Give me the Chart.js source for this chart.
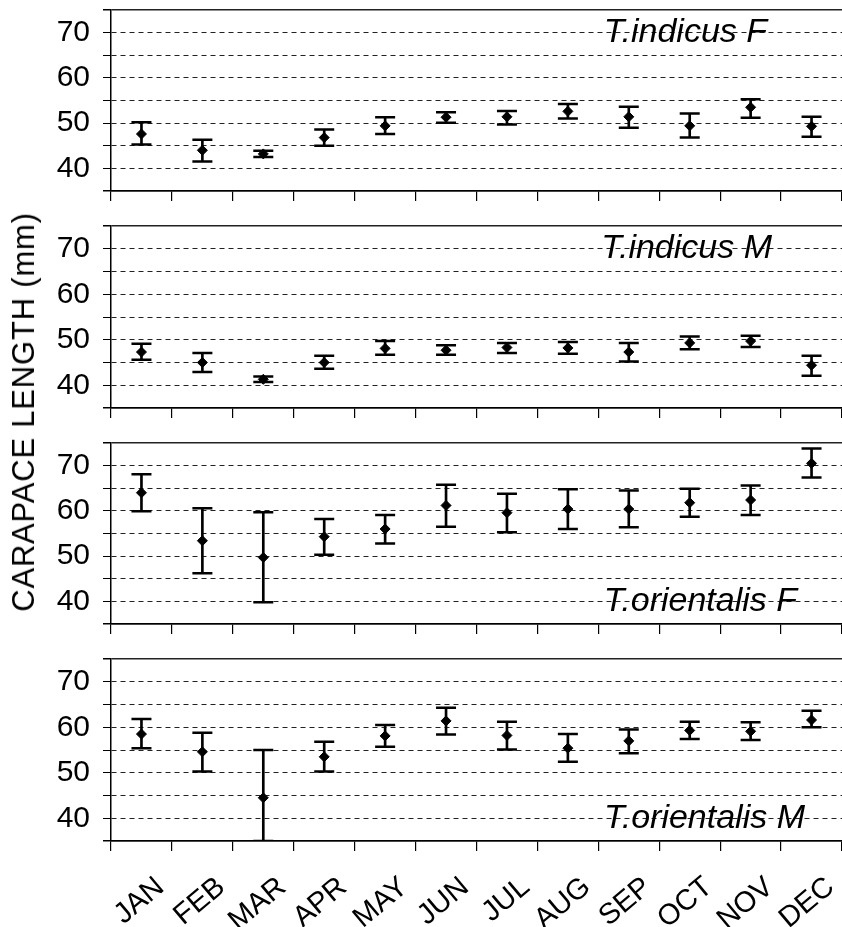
<!DOCTYPE html>
<html>
<head>
<meta charset="utf-8">
<script src="https://cdn.jsdelivr.net/npm/chart.js@4.4.1/dist/chart.umd.min.js"></script>
<style>
  html, body { margin: 0; padding: 0; background: #fff; }
  #wrap { position: relative; width: 842px; height: 927px; overflow: hidden; }
  canvas { position: absolute; left: 0; }
  #ytitle {
    position: absolute; left: 24px; top: 412px;
    transform: translate(-50%, -50%) rotate(-90deg);
    font: 31px "Liberation Sans", Arial, sans-serif; color: #000;
    white-space: nowrap; letter-spacing: 0.8px;
  }
</style>
</head>
<body>
<div id="wrap">
  <canvas id="p1" width="842" height="201" style="top:0px"></canvas>
  <canvas id="p2" width="842" height="202" style="top:216px"></canvas>
  <canvas id="p3" width="842" height="201" style="top:433px"></canvas>
  <canvas id="p4" width="842" height="278" style="top:649px"></canvas>
  <div id="ytitle">CARAPACE LENGTH (mm)</div>
</div>
<script>
const months = ['JAN', 'FEB', 'MAR', 'APR', 'MAY', 'JUN', 'JUL', 'AUG', 'SEP', 'OCT', 'NOV', 'DEC'];
const yLabels = [40, 50, 60, 70];

// T. indicus F
const indicusF_mean = [47.6, 44.0, 43.2, 46.8, 49.4, 51.3, 51.4, 52.6, 51.4, 49.4, 53.5, 49.3];
const indicusF_hi   = [50.2, 46.3, 43.9, 48.6, 51.3, 52.4, 52.7, 54.2, 53.6, 52.1, 55.3, 51.4];
const indicusF_lo   = [45.3, 41.5, 42.5, 45.0, 47.6, 50.1, 49.7, 51.0, 49.0, 46.8, 51.2, 47.0];

// T. indicus M
const indicusM_mean = [47.3, 45.0, 41.3, 45.0, 48.1, 47.7, 48.3, 48.2, 47.3, 49.3, 49.7, 44.4];
const indicusM_hi   = [49.1, 47.1, 41.9, 46.5, 49.7, 48.8, 49.3, 49.5, 49.3, 50.7, 50.9, 46.5];
const indicusM_lo   = [45.6, 42.9, 40.7, 43.6, 46.7, 46.7, 47.1, 46.9, 45.2, 47.9, 48.4, 42.1];

// T. orientalis F
const orientalisF_mean = [64.0, 53.4, 49.7, 54.3, 56.0, 61.2, 59.6, 60.4, 60.4, 61.8, 62.4, 70.5];
const orientalisF_hi   = [68.1, 60.6, 59.7, 58.2, 59.1, 65.8, 63.8, 64.8, 64.5, 64.9, 65.6, 73.8];
const orientalisF_lo   = [59.9, 46.2, 39.8, 50.3, 52.8, 56.5, 55.3, 56.0, 56.4, 58.7, 59.1, 67.4];

// T. orientalis M
const orientalisM_mean = [58.5, 54.6, 44.5, 53.5, 58.1, 61.4, 58.2, 55.4, 57.0, 59.3, 59.1, 61.6];
const orientalisM_hi   = [61.8, 58.8, 55.0, 56.8, 60.5, 64.3, 61.2, 58.5, 59.5, 61.2, 61.1, 63.6];
const orientalisM_lo   = [55.4, 50.3, 35.0, 50.3, 55.7, 58.4, 55.1, 52.4, 54.3, 57.4, 57.2, 60.0];

const FONT = '"Liberation Sans", Arial, sans-serif';

// species name written over the grid
const speciesLabel = {
  id: 'speciesLabel',
  afterDraw(chart, args, opts) {
    const { ctx } = chart;
    const y = chart.scales.y.getPixelForValue(opts.at) + opts.dy;
    ctx.save();
    ctx.font = 'italic 34px ' + FONT;
    ctx.fillStyle = '#000';
    ctx.textAlign = 'right';
    ctx.textBaseline = 'middle';
    ctx.fillText(opts.text, opts.right, y);
    ctx.restore();
  }
};

function makePanel(canvasId, mean, hi, lo, name, nameAt, nameRight, showMonths) {
  const ctx = document.getElementById(canvasId);
  return new Chart(ctx, {
    type: 'bar',
    data: {
      labels: months,
      datasets: [
        {
          type: 'line', data: mean, showLine: false,
          pointStyle: 'rectRot', pointRadius: 5, pointBorderWidth: 1,
          pointBackgroundColor: '#000', pointBorderColor: '#000', order: 0
        },
        {
          type: 'line', data: hi, showLine: false,
          pointStyle: 'line', pointRadius: 10, pointBorderWidth: 2.5,
          pointBorderColor: '#000', order: 1
        },
        {
          type: 'line', data: lo, showLine: false,
          pointStyle: 'line', pointRadius: 10, pointBorderWidth: 2.5,
          pointBorderColor: '#000', order: 1
        },
        {
          type: 'bar', data: lo.map((v, i) => [v, hi[i]]),
          backgroundColor: '#000', borderWidth: 0, barThickness: 2, grouped: false, order: 2
        }
      ]
    },
    options: {
      responsive: false,
      animation: false,
      events: [],
      layout: { autoPadding: false, padding: { top: 10, left: 0, right: 0, bottom: 0 } },
      plugins: {
        legend: { display: false },
        tooltip: { enabled: false },
        speciesLabel: { text: name, at: nameAt, right: nameRight, dy: 0 }
      },
      scales: {
        x: {
          offset: true,
          grid: { offset: true, drawOnChartArea: false, drawTicks: true, tickLength: 10, color: '#000', lineWidth: 1.2 },
          border: { display: true, color: '#000', width: 1.5 },
          ticks: showMonths ? {
            display: true, color: '#000', font: { family: FONT, size: 29 },
            minRotation: 40, maxRotation: 40, autoSkip: false, padding: 19, labelOffset: 19
          } : { display: false },
          afterFit(scale) {
            scale.height = showMonths ? 86 : 10;
            scale.paddingLeft = 0; scale.paddingRight = 0;
          }
        },
        y: {
          min: 35, max: 75,
          ticks: {
            stepSize: 5, autoSkip: false, color: '#000', padding: 13,
            font: { family: FONT, size: 30 },
            callback: (v) => yLabels.includes(v) ? String(v) : ''
          },
          grid: {
            color: '#222', tickLength: 8, tickColor: '#000',
            lineWidth: (c) => (c.tick && (c.tick.value === 75 || c.tick.value === 35)) ? 1.5 : 1
          },
          border: {
            display: true, color: '#000', width: 1.5,
            dash: (c) => (c.tick && (c.tick.value === 75 || c.tick.value === 35)) ? [] : [5, 4]
          },
          afterFit(scale) {
            scale.width = 111;
            scale.paddingTop = 0; scale.paddingBottom = 0;
          }
        }
      }
    },
    plugins: [speciesLabel]
  });
}

makePanel('p1', indicusF_mean, indicusF_hi, indicusF_lo, 'T.indicus F', 70, 767, false);
makePanel('p2', indicusM_mean, indicusM_hi, indicusM_lo, 'T.indicus M', 70, 772, false);
makePanel('p3', orientalisF_mean, orientalisF_hi, orientalisF_lo, 'T.orientalis F', 40, 797, false);
makePanel('p4', orientalisM_mean, orientalisM_hi, orientalisM_lo, 'T.orientalis M', 40, 805, true);
</script>
</body>
</html>
